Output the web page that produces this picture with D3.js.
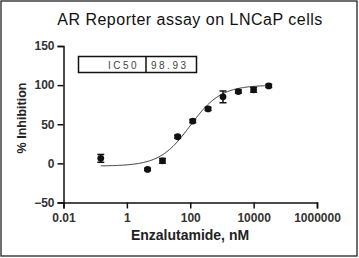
<!DOCTYPE html>
<meta charset="utf-8">
<script src="https://d3js.org/d3.v7.min.js"></script>
<style>
body { margin: 0; background: #fff; }
text { font-family: "Liberation Sans", Arial, sans-serif; }
</style>
<div id="main"></div>
<script>

// enzalutamide concentrations (nM) and mean % inhibition with error
const conc = [0.15, 4.5, 13.3, 40, 120, 365, 1080, 3300, 10000, 30000];
const inhibition = [6.4, -7.7, 3.3, 34, 54, 69.6, 85, 91.8, 94, 99];
const errs = [5, 1.5, 3, 2, 2, 2, 7.5, 2, 3, 2];

// four parameter fit
const fitBottom = -3.5, fitTop = 100, fitEC50 = 100, fitHill = 0.9;
const ic50Label = "98.93";

const xTicks = [0.01, 1, 100, 10000, 1000000];
const yTicks = [-50, 0, 50, 100, 150];

const width = 359, height = 258;

let svg = d3.select("#main").append("svg")
    .attr("width", width)
    .attr("height", height);

svg.append("rect")
    .attr("x", 1).attr("y", 1)
    .attr("width", 356).attr("height", 255)
    .attr("fill", "none")
    .attr("stroke", "#222")
    .attr("stroke-width", 1.3);

let x = d3.scaleLog().domain([0.01, 1000000]).range([63.5, 317]);
let y = d3.scaleLinear().domain([-50, 150]).range([202.5, 46]);

svg.append("text")
    .attr("x", 190).attr("y", 25)
    .attr("text-anchor", "middle")
    .attr("font-size", 16)
    .attr("letter-spacing", 0.5)
    .attr("fill", "#111")
    .text("AR Reporter assay on LNCaP cells");

// axes
let xAxis = svg.append("g")
    .attr("transform", "translate(0," + y(-50) + ")")
    .call(d3.axisBottom(x).tickValues(xTicks).tickSize(6).tickPadding(3)
      .tickFormat(d3.format("")));

let yAxis = svg.append("g")
    .attr("transform", "translate(" + x(0.01) + ",0)")
    .call(d3.axisLeft(y).tickValues(yTicks).tickSize(6).tickPadding(3)
      .tickFormat(d3.format("")));

[xAxis, yAxis].forEach(function(g) {
  g.selectAll("path, line").attr("stroke", "#111").attr("stroke-width", 1.5);
  g.selectAll("text")
      .attr("font-size", 12)
      .attr("font-weight", "bold")
      .attr("fill", "#333")
      .attr("font-family", "'Liberation Sans', Arial, sans-serif");
});
xAxis.selectAll("text").attr("dy", "0.85em");

svg.append("text")
    .attr("x", 190).attr("y", 240)
    .attr("text-anchor", "middle")
    .attr("font-size", 14)
    .attr("font-weight", "bold")
    .attr("fill", "#222")
    .text("Enzalutamide, nM");

svg.append("text")
    .attr("transform", "translate(26,118) rotate(-90)")
    .attr("text-anchor", "middle")
    .attr("font-size", 12.5)
    .attr("font-weight", "bold")
    .attr("fill", "#222")
    .text("% Inhibition");

// fitted curve
let curveX = d3.range(0, 201).map(function(i) {
  let lo = Math.log10(conc[0]), hi = Math.log10(conc[conc.length - 1]);
  return Math.pow(10, lo + (hi - lo) * i / 200);
});
let fit = function(c) {
  return fitBottom + (fitTop - fitBottom) / (1 + Math.pow(fitEC50 / c, fitHill));
};
svg.append("path")
    .datum(curveX)
    .attr("fill", "none")
    .attr("stroke", "#333")
    .attr("stroke-width", 1)
    .attr("d", d3.line()
      .x(function(c) { return x(c); })
      .y(function(c) { return y(fit(c)); }));

// error bars and points
let pts = conc.map(function(c, i) { return {c: c, v: inhibition[i], e: errs[i]}; });

let eb = svg.append("g").attr("stroke", "#111").attr("stroke-width", 1.5);
eb.selectAll("line.v").data(pts).enter().append("line")
    .attr("x1", function(d) { return x(d.c); })
    .attr("x2", function(d) { return x(d.c); })
    .attr("y1", function(d) { return y(d.v - d.e); })
    .attr("y2", function(d) { return y(d.v + d.e); });
[1, -1].forEach(function(s) {
  eb.selectAll(null).data(pts).enter().append("line")
      .attr("x1", function(d) { return x(d.c) - 3.5; })
      .attr("x2", function(d) { return x(d.c) + 3.5; })
      .attr("y1", function(d) { return y(d.v + s * d.e); })
      .attr("y2", function(d) { return y(d.v + s * d.e); });
});

svg.append("g").selectAll("circle")
    .data(pts).enter().append("circle")
    .attr("cx", function(d) { return x(d.c); })
    .attr("cy", function(d) { return y(d.v); })
    .attr("r", 3.4)
    .attr("fill", "#111");

// IC50 table
let tbl = svg.append("g");
tbl.append("rect")
    .attr("x", 78.5).attr("y", 56.5)
    .attr("width", 118).attr("height", 16)
    .attr("fill", "#fff").attr("stroke", "#111").attr("stroke-width", 1.5);
tbl.append("line")
    .attr("x1", 146).attr("x2", 146).attr("y1", 56.5).attr("y2", 72.5)
    .attr("stroke", "#111").attr("stroke-width", 1.5);
tbl.append("text")
    .attr("x", 139).attr("y", 68.5)
    .attr("text-anchor", "end")
    .attr("font-size", 10).attr("letter-spacing", 2.5)
    .attr("fill", "#444")
    .text("IC50");
tbl.append("text")
    .attr("x", 151).attr("y", 68.5)
    .attr("font-size", 10).attr("letter-spacing", 2.5)
    .attr("fill", "#444")
    .text(ic50Label);

</script>
